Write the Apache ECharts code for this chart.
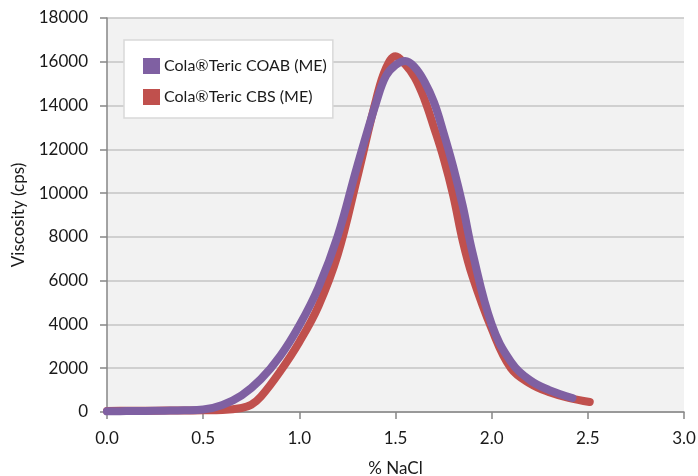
<!DOCTYPE html>
<html><head><meta charset="utf-8">
<script src="https://cdn.jsdelivr.net/npm/echarts@6/dist/echarts.min.js"></script>
<style>html,body{margin:0;padding:0;background:#fff}#c{width:698px;height:476px}</style>
</head><body><div id="c"></div>
<script>
var seriesNames = ['Cola®Teric COAB (ME)', 'Cola®Teric CBS (ME)'];
var coabX = [0.0, 0.1, 0.2, 0.3, 0.4, 0.5, 0.6, 0.7, 0.8, 0.9, 1.0, 1.1, 1.2, 1.3, 1.4, 1.45, 1.5, 1.55, 1.6, 1.65, 1.7, 1.75, 1.8, 1.85, 1.9, 2.0, 2.1, 2.2, 2.3, 2.42];
var coabY = [30, 40, 50, 60, 75, 110, 320, 760, 1500, 2550, 3950, 5700, 8050, 11200, 14150, 15350, 15850, 16030, 15750, 15100, 14150, 12750, 11200, 9400, 7300, 4000, 2300, 1450, 1000, 640];
var cbsX = [0.0, 0.1, 0.2, 0.3, 0.4, 0.5, 0.6, 0.7, 0.75, 0.8, 0.9, 1.0, 1.1, 1.2, 1.3, 1.4, 1.45, 1.5, 1.55, 1.6, 1.65, 1.7, 1.75, 1.8, 1.85, 1.9, 2.0, 2.1, 2.2, 2.3, 2.4, 2.51];
var cbsY = [50, 55, 60, 65, 70, 75, 90, 180, 330, 700, 1850, 3200, 4850, 7200, 10670, 14300, 15700, 16250, 15880, 15280, 14300, 13000, 11600, 9900, 7800, 6200, 3800, 2000, 1300, 900, 650, 460];
var xTicks = {min: 0, max: 3, step: 0.5};
var yTicks = {min: 0, max: 18000, step: 2000};
var xTitle = '% NaCl';
var yTitle = 'Viscosity (cps)';

function pairs(xs, ys){ return xs.map(function(x,i){ return [x, ys[i]]; }); }
var font = "Lato, 'Open Sans', sans-serif";
var chart = echarts.init(document.getElementById('c'));
chart.setOption({
  backgroundColor: '#ffffff',
  animation: false,
  textStyle: {fontFamily: font},
  grid: {left: 107, right: 14, top: 18, bottom: 64, show: true, backgroundColor: '#f2f2f2', borderWidth: 0, containLabel: false, outerBoundsMode: 'none'},
  legend: {
    data: [seriesNames[0], seriesNames[1]],
    orient: 'vertical', left: 124, top: 40,
    backgroundColor: '#ffffff', borderColor: '#d9d9d9', borderWidth: 1.5,
    padding: [18, 6, 13, 19],
    itemGap: 15, itemWidth: 17, itemHeight: 16, icon: 'rect',
    textStyle: {fontSize: 16, color: '#1a1a1a', fontFamily: font, padding: [0,0,0,-1]}
  },
  xAxis: {
    type: 'value', min: xTicks.min, max: xTicks.max, interval: xTicks.step,
    name: xTitle, nameLocation: 'middle', nameGap: 48,
    nameTextStyle: {fontSize: 17, color: '#1a1a1a', fontFamily: font},
    axisLine: {lineStyle: {color: '#868686', width: 1.5}},
    axisTick: {show: true, length: 7, lineStyle: {color: '#868686', width: 1.5}},
    axisLabel: {fontSize: 17, color: '#1a1a1a', margin: 18, formatter: function(v){ return v.toFixed(1); }},
    splitLine: {show: false}
  },
  yAxis: {
    type: 'value', min: yTicks.min, max: yTicks.max, interval: yTicks.step,
    name: yTitle, nameLocation: 'middle', nameGap: 80, nameRotate: 90,
    nameTextStyle: {fontSize: 17, color: '#1a1a1a', fontFamily: font},
    axisLine: {show: true, lineStyle: {color: '#868686', width: 1.5}},
    axisTick: {show: true, length: 7, lineStyle: {color: '#868686', width: 1.5}},
    axisLabel: {fontSize: 17, color: '#1a1a1a', margin: 19, formatter: function(v){ return String(v); }},
    splitLine: {show: true, lineStyle: {color: '#c4c4c4', width: 1.5}}
  },
  series: [
    {name: seriesNames[1], type: 'line', smooth: 0.4, showSymbol: false, symbol: 'none',
     data: pairs(cbsX, cbsY), color: '#c0504d', lineStyle: {width: 8, cap: 'round', color: '#c0504d'}},
    {name: seriesNames[0], type: 'line', smooth: 0.4, showSymbol: false, symbol: 'none',
     data: pairs(coabX, coabY), color: '#7f60a2', lineStyle: {width: 8, cap: 'round', color: '#7f60a2'}}
  ]
});
</script></body></html>
